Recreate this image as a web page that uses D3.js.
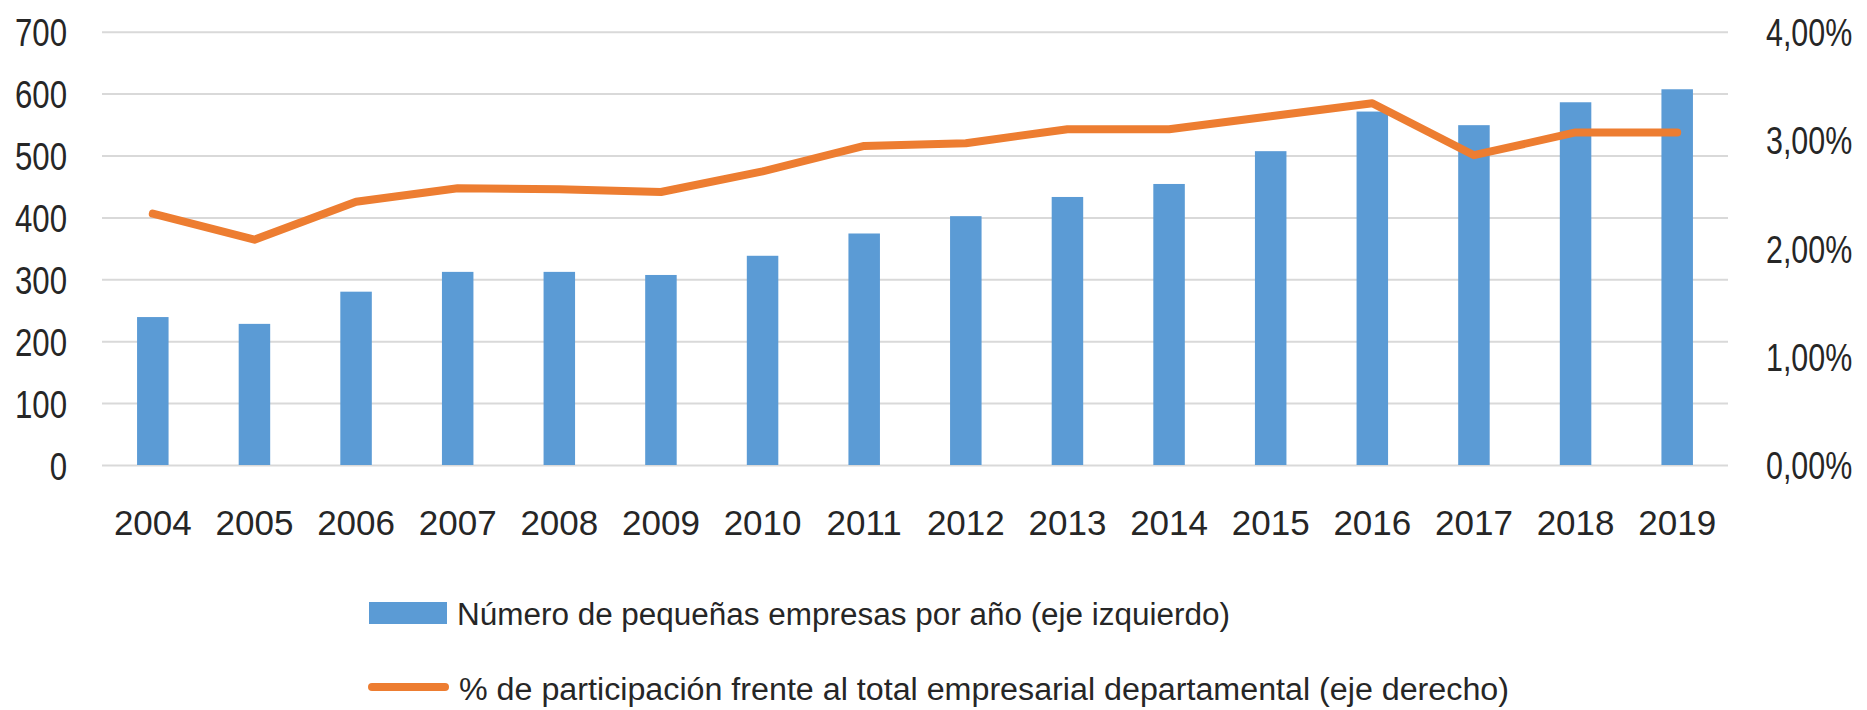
<!DOCTYPE html>
<html lang="es">
  <head>
    <meta charset="UTF-8" />
    <title>Pequeñas empresas por año</title>
    <style>
      body {
        margin: 0;
        background: #fff;
      }
      .grid line {
        stroke: #d9d9d9;
        stroke-width: 2px;
      }
      .tick-label {
        font-family: "Liberation Sans Narrow", "Arial Narrow", "Liberation Sans", sans-serif;
        fill: #262626;
      }
      .year-label {
        font-family: "Liberation Sans", Arial, sans-serif;
        fill: #262626;
      }
    </style>
  </head>
  <body>
    <div id="chart"></div>
    <script src="https://cdn.jsdelivr.net/npm/d3@7"></script>
    <script>
      /* global d3 */

      const years = ["2004", "2005", "2006", "2007", "2008", "2009", "2010", "2011",
        "2012", "2013", "2014", "2015", "2016", "2017", "2018", "2019"];

      // número de pequeñas empresas (eje izquierdo)
      const empresas = [239, 228, 280, 312, 312, 307, 338, 374,
        402, 433, 454, 507, 571, 549, 586, 607];

      // % de participación (eje derecho)
      const participacion = [0.0232, 0.0208, 0.0243, 0.02555, 0.02545, 0.0252, 0.0271, 0.02945,
        0.0297, 0.031, 0.031, 0.0322, 0.0334, 0.0286, 0.0307, 0.0307];

      const leftTicks = [0, 100, 200, 300, 400, 500, 600, 700];
      const rightTicks = [0, 0.01, 0.02, 0.03, 0.04];

      const legendLabels = [
        "Número de pequeñas empresas por año (eje izquierdo)",
        "% de participación frente al total empresarial departamental (eje derecho)"
      ];

      let width = 1867,
        height = 710;

      let plot = { left: 102, right: 1728, top: 31.7, bottom: 465 };

      let esLocale = d3.formatLocale({
        decimal: ",",
        thousands: ".",
        grouping: [3],
        currency: ["", " €"]
      });
      let pctFormat = esLocale.format(".2%");

      let svg = d3
        .select("#chart")
        .append("svg")
        .attr("width", width)
        .attr("height", height);

      let x = d3
        .scaleBand()
        .domain(years)
        .range([plot.left, plot.right])
        .paddingInner(0.69)
        .paddingOuter(0.345);

      let yLeft = d3.scaleLinear().domain([0, 700]).range([plot.bottom, plot.top]);
      let yRight = d3.scaleLinear().domain([0, 0.04]).range([plot.bottom, plot.top]);

      // gridlines
      svg
        .append("g")
        .attr("class", "grid")
        .attr("transform", "translate(" + plot.left + ",0)")
        .call(
          d3.axisLeft(yLeft)
            .tickValues(leftTicks)
            .tickSize(-(plot.right - plot.left))
            .tickFormat("")
        )
        .call((g) => g.select(".domain").remove());

      // left axis labels (squeezed, the original uses a narrow face)
      let leftAxis = svg
        .append("g")
        .attr("transform", "translate(67,0)")
        .call(d3.axisLeft(yLeft).tickValues(leftTicks).tickSize(0).tickPadding(0));
      leftAxis.select(".domain").remove();
      leftAxis
        .selectAll("text")
        .attr("class", "tick-label")
        .style("font-size", "39px")
        .attr("dy", "0.36em")
        .attr("transform", "scale(0.8,1)");

      // right axis labels
      let rightAxis = svg
        .append("g")
        .attr("transform", "translate(1766,0)")
        .call(
          d3.axisRight(yRight)
            .tickValues(rightTicks)
            .tickSize(0)
            .tickPadding(0)
            .tickFormat(pctFormat)
        );
      rightAxis.select(".domain").remove();
      rightAxis
        .selectAll("text")
        .attr("class", "tick-label")
        .style("font-size", "38px")
        .attr("dy", "0.36em")
        .attr("transform", "scale(0.8,1)");

      // bars
      svg
        .selectAll(".bar")
        .data(years)
        .enter()
        .append("rect")
        .attr("class", "bar")
        .attr("x", (d) => x(d))
        .attr("width", x.bandwidth())
        .attr("y", (d, i) => yLeft(empresas[i]))
        .attr("height", (d, i) => yLeft(0) - yLeft(empresas[i]))
        .style("fill", "#5b9bd5");

      // line
      let line = d3
        .line()
        .x((d, i) => x(years[i]) + x.bandwidth() / 2)
        .y((d) => yRight(d));

      svg
        .append("path")
        .datum(participacion)
        .attr("d", line)
        .style("fill", "none")
        .style("stroke", "#ed7d31")
        .style("stroke-width", 8)
        .style("stroke-linejoin", "round")
        .style("stroke-linecap", "round");

      // year labels
      let xAxis = svg
        .append("g")
        .attr("transform", "translate(0,510)")
        .call(d3.axisBottom(x).tickSize(0).tickPadding(0));
      xAxis.select(".domain").remove();
      xAxis
        .selectAll("text")
        .attr("class", "year-label")
        .style("font-size", "35px")
        .attr("dy", "0.72em");

      // legend
      let legend = svg.append("g");
      legend
        .append("rect")
        .attr("x", 369)
        .attr("y", 602)
        .attr("width", 78)
        .attr("height", 22)
        .style("fill", "#5b9bd5");
      legend
        .append("line")
        .attr("x1", 372)
        .attr("x2", 445)
        .attr("y1", 687)
        .attr("y2", 687)
        .style("stroke", "#ed7d31")
        .style("stroke-width", 8)
        .style("stroke-linecap", "round");

      legend
        .selectAll(".legend-text")
        .data(legendLabels)
        .enter()
        .append("text")
        .attr("class", "tick-label legend-text")
        .attr("x", (d, i) => (i === 0 ? 457 : 459))
        .attr("y", (d, i) => (i === 0 ? 625 : 700))
        .attr("textLength", (d, i) => (i === 0 ? 773 : 1050))
        .attr("lengthAdjust", "spacingAndGlyphs")
        .style("font-size", "31px")
        .text((d) => d);
    </script>
  </body>
</html>
